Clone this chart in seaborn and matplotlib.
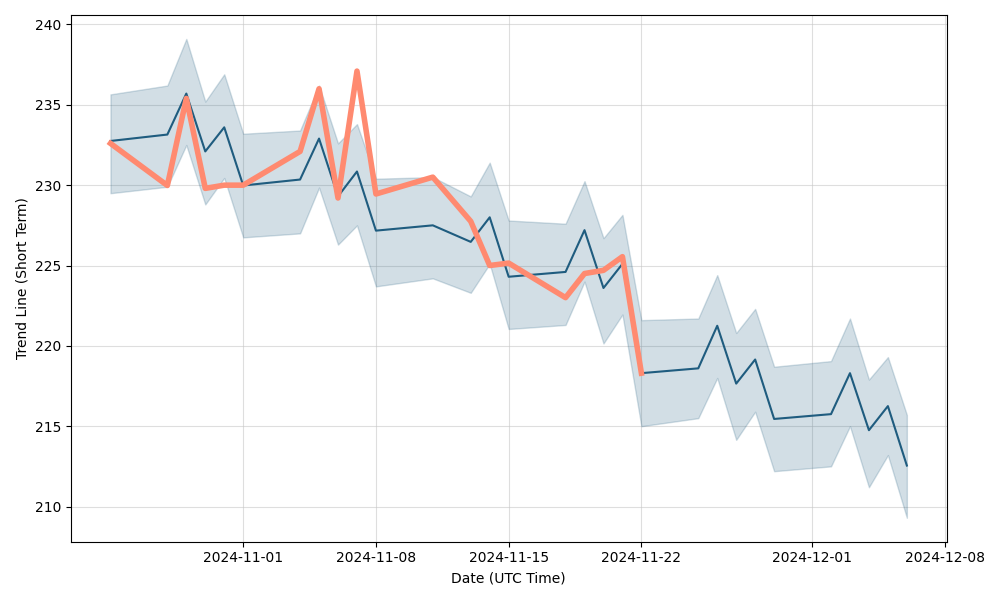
import pandas as pd
import matplotlib
matplotlib.use("Agg")
import matplotlib.pyplot as plt
import seaborn as sns

# trading days shown on the chart
dates = [
    "2024-10-25", "2024-10-28", "2024-10-29", "2024-10-30", "2024-10-31",
    "2024-11-01", "2024-11-04", "2024-11-05", "2024-11-06", "2024-11-07",
    "2024-11-08", "2024-11-11", "2024-11-13", "2024-11-14", "2024-11-15",
    "2024-11-18", "2024-11-19", "2024-11-20", "2024-11-21", "2024-11-22",
    "2024-11-25", "2024-11-26", "2024-11-27", "2024-11-28", "2024-11-29",
    "2024-12-02", "2024-12-03", "2024-12-04", "2024-12-05", "2024-12-06",
]

# short term trend line
trend = [
    232.75, 233.15, 235.7, 232.1, 233.6,
    229.98, 230.35, 232.9, 229.3, 230.85,
    227.17, 227.5, 226.47, 228.0, 224.3,
    224.6, 227.2, 223.6, 225.1, 218.3,
    218.6, 221.25, 217.65, 219.15, 215.45,
    215.75, 218.3, 214.75, 216.25, 212.55,
]

# band around the trend line
upper = [
    235.65, 236.2, 239.1, 235.2, 236.9,
    233.2, 233.4, 236.2, 232.6, 233.8,
    230.4, 230.5, 229.3, 231.4, 227.8,
    227.6, 230.25, 226.7, 228.15, 221.6,
    221.7, 224.4, 220.8, 222.3, 218.7,
    219.05, 221.7, 217.9, 219.3, 215.7,
]
lower = [
    229.5, 229.9, 232.5, 228.8, 230.45,
    226.75, 227.0, 229.85, 226.3, 227.5,
    223.7, 224.2, 223.3, 225.1, 221.05,
    221.3, 224.0, 220.15, 221.95, 215.0,
    215.5, 218.0, 214.15, 215.9, 212.2,
    212.5, 215.0, 211.2, 213.2, 209.3,
]

# observed values (ends on 2024-11-22)
observed = [
    232.6, 229.98, 235.4, 229.8, 230.0,
    230.0, 232.1, 236.0, 229.2, 237.1,
    229.45, 230.5, 227.75, 225.0, 225.15,
    223.0, 224.5, 224.7, 225.55, 218.3,
]

df = pd.DataFrame({
    "date": pd.to_datetime(dates),
    "trend": trend,
    "upper": upper,
    "lower": lower,
})
obs = pd.DataFrame({"date": pd.to_datetime(dates[:len(observed)]), "value": observed})

dark = "#1f5c7f"
salmon = "#ff8a70"

fig, ax = plt.subplots(figsize=(10, 6), dpi=100)

ax.fill_between(df["date"], df["lower"], df["upper"], color=dark, alpha=0.2)
sns.lineplot(data=df, x="date", y="trend", color=dark, linewidth=1.5, ax=ax)
sns.lineplot(data=obs, x="date", y="value", color=salmon, linewidth=4, ax=ax)

ax.grid(True, color="#c8c8c8", alpha=0.6, linewidth=0.8)
ax.set_axisbelow(True)
ax.set_xlabel("Date (UTC Time)")
ax.set_ylabel("Trend Line (Short Term)")

plt.tight_layout()
plt.savefig("out.png", dpi=100)
plt.close()
